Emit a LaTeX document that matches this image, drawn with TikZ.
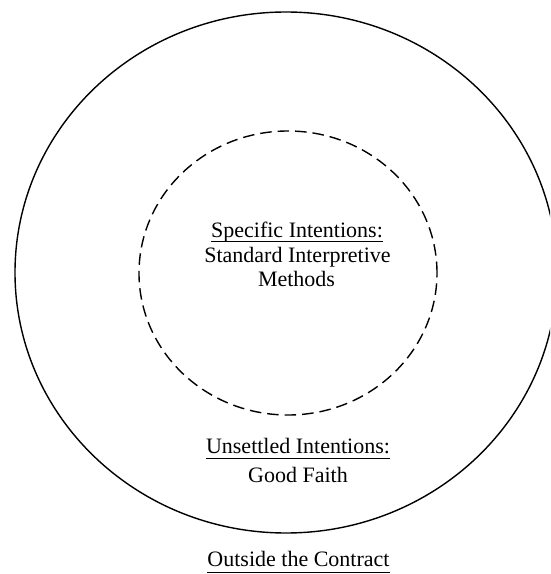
\documentclass[tikz,border=0pt]{standalone}
\usepackage{fontspec}
\setmainfont{Liberation Serif}
\begin{document}
\begin{tikzpicture}[x=1pt,y=1pt,
  lbl/.style={inner sep=0pt,anchor=base,font=\fontsize{22}{24.5}\selectfont},
  ul/.style={line width=0.9pt},
  ring/.style={line width=1.4pt},
  innerring/.style={line width=1.4pt,dash pattern=on 11.5pt off 6pt}]
\useasboundingbox (0,0) rectangle (550,574);
\clip (0,0) rectangle (550,574);
\draw[ring] (286,301.5) ellipse [x radius=271, y radius=260.5];
\draw[innerring] (288,301) ellipse [x radius=149, y radius=142];
\node[lbl] (s1) at (297,336) {Specific Intentions:};
\node[lbl] (s2) at (297.5,311) {Standard Interpretive};
\node[lbl] (s3) at (296.5,287) {Methods};
\node[lbl] (u1) at (298,120) {Unsettled Intentions:};
\node[lbl] (u2) at (298,92) {Good Faith};
\node[lbl] (o1) at (298.5,7) {Outside the Contract};
\draw[ul] ([yshift=-3.5pt]s1.base west) -- ([yshift=-3.5pt]s1.base east);
\draw[ul] ([yshift=-4pt]u1.base west) -- ([yshift=-4pt]u1.base east);
\draw[ul] ([yshift=-5pt]o1.base west) -- ([yshift=-5pt]o1.base east);
\end{tikzpicture}
\end{document}
